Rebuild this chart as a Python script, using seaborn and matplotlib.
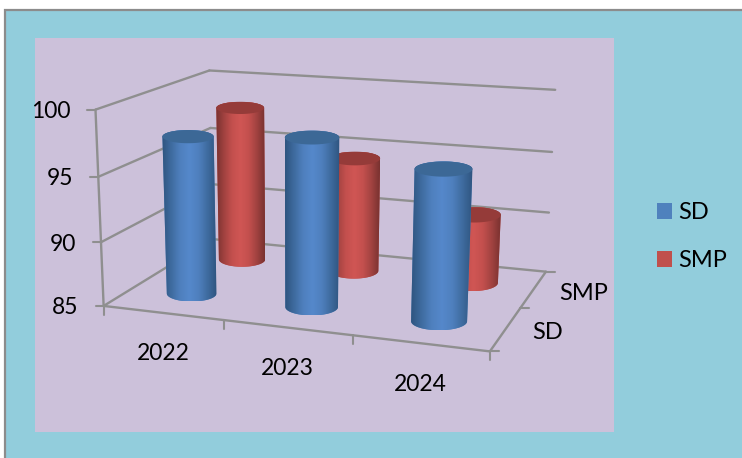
import numpy as np
import pandas as pd
import matplotlib
matplotlib.use('Agg')
import matplotlib.pyplot as plt
from matplotlib.patches import Rectangle
from matplotlib.path import Path
import seaborn as sns

years = ['2022', '2023', '2024']
series_names = ['SD', 'SMP']
sd_values = [97.4, 98.0, 96.4]
smp_values = [97.9, 94.4, 90.6]
y_ticks = [85, 90, 95, 100]

sns.set_theme(style='white')
plt.rcParams['font.family'] = ['Lato', 'DejaVu Sans']
plt.rcParams['text.color'] = 'black'

W, H = 742, 458
GRID = '#8f8f8f'
NUM_SIZE = 16.5
NAME_SIZE = 17

# corners of the 3d box as seen in the picture: (along, depth, height) -> pixel
box_3d = [(0, 0, 0), (0, 0, 1), (0, 1, 0), (0, 1, 1), (1, 0, 0), (1, 1, 0), (1, 1, 1)]
box_px = [(104, 305), (95, 110), (212, 240), (210, 70), (490, 352), (546, 271), (555, 90)]

# camera matrix fitted on the corners
rows = []
for (a, b, c), (px, py) in zip(box_3d, box_px):
    rows.append([a, b, c, 1, 0, 0, 0, 0, -px * a, -px * b, -px * c, -px])
    rows.append([0, 0, 0, 0, a, b, c, 1, -py * a, -py * b, -py * c, -py])
cam = np.linalg.svd(np.array(rows, dtype=float))[2][-1].reshape(3, 4)


def project(u, d, value):
    z = (value - y_ticks[0]) / (y_ticks[-1] - y_ticks[0])
    p = cam @ np.array([u, d, z, 1.0])
    return p[0] / p[2], p[1] / p[2]


def line3d(ax, a, b, lw=1.7):
    pa, pb = project(*a), project(*b)
    ax.plot([pa[0], pb[0]], [pa[1], pb[1]], color=GRID, lw=lw, zorder=2, solid_capstyle='round')


df = pd.DataFrame({
    'year': years * 2,
    'series': [series_names[0]] * 3 + [series_names[1]] * 3,
    'value': sd_values + smp_values,
})

fig = plt.figure(figsize=(W / 100, H / 100), dpi=100, facecolor='white')
ax = fig.add_axes([0, 0, 1, 1])
sns.barplot(data=df, x='year', y='value', hue='series', hue_order=series_names,
            palette=['#4F81BD', '#C0504D'], saturation=1, errorbar=None, edgecolor='none', ax=ax)

# slide background
ax.add_patch(Rectangle((5, 10), W, H, fc='#92CDDC', ec='#8c8c8c', lw=1.6, zorder=0))
ax.add_patch(Rectangle((35, 38), 579, 394, fc='#CCC1DA', ec='none', zorder=1))

# walls and floor
for v in y_ticks:
    line3d(ax, (0, 0, v), (0, 1, v))
    line3d(ax, (0, 1, v), (1, 1, v))
    x0, y0 = project(0, 0, v)
    ax.plot([x0 - 8, x0], [y0, y0], color=GRID, lw=1.5, zorder=2)
    ax.text(x0 - 25, y0 + 2, str(v), ha='right', va='center', fontsize=NUM_SIZE, color='black', zorder=6)
line3d(ax, (0, 0, 85), (0, 0, 100))
line3d(ax, (0, 0, 85), (1, 0, 85))
line3d(ax, (1, 0, 85), (1, 1, 85))

for i in range(len(years) + 1):
    x0, y0 = project(i / 3, 0, 85)
    ax.plot([x0, x0], [y0, y0 + 9], color=GRID, lw=1.5, zorder=2)
for d in [0, 0.5, 1]:
    x0, y0 = project(1, d, 85)
    ax.plot([x0, x0 + 9], [y0, y0], color=GRID, lw=1.5, zorder=2)

for i, year in enumerate(years):
    x0, y0 = project((i + 0.5) / 3, 0, 85)
    ax.text(x0, y0 + 41, year, ha='center', va='center', fontsize=NUM_SIZE, color='black', zorder=6)
for j, name in enumerate(series_names):
    x0, y0 = project(1, 0.25 + 0.5 * j, 85)
    ax.text(x0 + 26, y0 + 4, name, ha='left', va='center', fontsize=NAME_SIZE, color='black', zorder=6)

# turn the seaborn bars into cylinders
R_U = 0.071
shades = {
    0: (['#2F5580', '#3F6CA0', '#4F80BE', '#5588CB', '#4F80BE', '#3F6CA0', '#2F5580'], '#3C6896'),
    1: (['#7A3230', '#A34341', '#C4504E', '#D05654', '#C4504E', '#A34341', '#7A3230'], '#953B39'),
}
t = np.linspace(0, np.pi, 60)
for j, container in enumerate(ax.containers):
    d = 0.25 + 0.5 * j
    cmap = sns.blend_palette(shades[j][0], 64, as_cmap=True)
    for i, bar in enumerate(container):
        u = (i + 0.5) / 3
        value = bar.get_height()
        cx0, cy0 = project(u, d, 85)
        cx1, cy1 = project(u, d, value)
        hw0 = (project(u + R_U, d, 85)[0] - project(u - R_U, d, 85)[0]) / 2
        hw1 = (project(u + R_U, d, value)[0] - project(u - R_U, d, value)[0]) / 2
        hh0 = hw0 * 0.32
        hh1 = hw1 * (0.32 - 0.005 * (value - 85))

        lower = np.column_stack([cx0 + hw0 * np.cos(t), cy0 + hh0 * np.sin(t)])
        upper = np.column_stack([cx1 - hw1 * np.cos(t), cy1 - hh1 * np.sin(t)])
        outline = np.vstack([lower, upper, lower[:1]])
        body = Path(outline, closed=True)

        z = 4 - j
        left, right = outline[:, 0].min(), outline[:, 0].max()
        top, bottom = outline[:, 1].min(), outline[:, 1].max()
        bar.set_bounds(left, top, right - left, bottom - top)
        bar.set_zorder(z)
        bar.set_clip_path(body, ax.transData)

        im = ax.imshow(np.linspace(0, 1, 64).reshape(1, -1), cmap=cmap, aspect='auto',
                       extent=(left, right, bottom, top), zorder=z, interpolation='bilinear')
        im.set_clip_path(body, ax.transData)

        cap = np.column_stack([cx1 + hw1 * np.cos(2 * t), cy1 + hh1 * np.sin(2 * t)])
        ax.fill(cap[:, 0], cap[:, 1], color=shades[j][1], lw=0, zorder=z)

sns.move_legend(ax, 'upper left', bbox_to_anchor=(657 / W, 1 - 202 / H), title=None, frameon=False,
                fontsize=NAME_SIZE, handlelength=0.64, handleheight=0.64, labelspacing=1.15,
                handletextpad=0.27, borderpad=0, borderaxespad=0)

ax.set_xlim(0, W)
ax.set_ylim(H, 0)
ax.set_xlabel('')
ax.set_ylabel('')
ax.axis('off')

fig.savefig('out.png', dpi=100, facecolor='white')
